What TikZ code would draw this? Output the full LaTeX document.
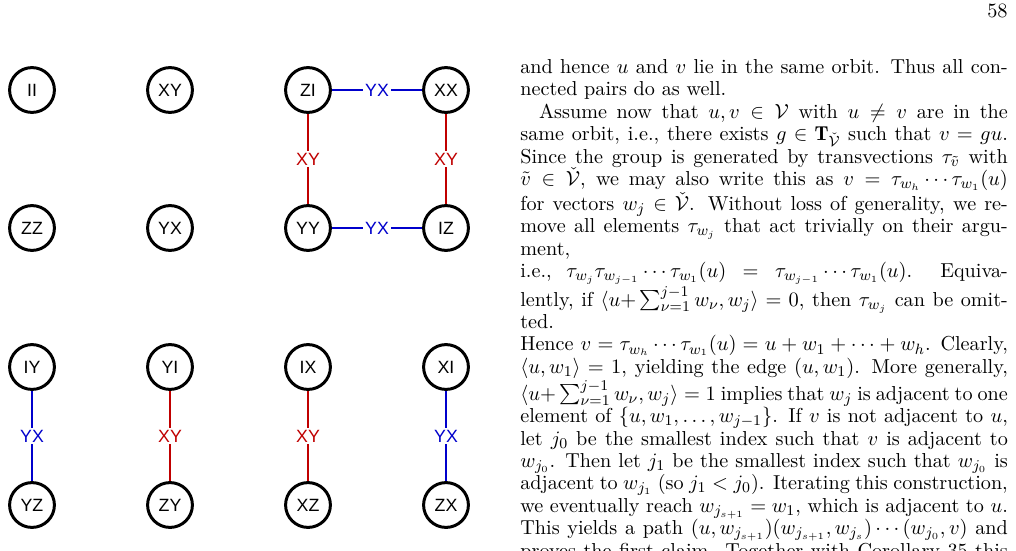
\documentclass[tikz,border=0pt]{standalone}
\usepackage{amsmath,amssymb}
\usepackage{fontspec}
\newfontfamily\lblfont{Liberation Sans}
\definecolor{ered}{HTML}{C00000}
\definecolor{eblue}{HTML}{0000CC}
\tikzset{
  q/.style={circle,draw=black,line width=1.6pt,minimum size=24pt,inner sep=0pt,font=\lblfont\fontsize{9.5}{11}\selectfont},
  rd/.style={draw=ered,line width=0.8pt},
  bl/.style={draw=eblue,line width=0.8pt},
  rl/.style={fill=white,inner sep=1pt,text=ered,font=\lblfont\fontsize{9.5}{11}\selectfont},
  bll/.style={fill=white,inner sep=1pt,text=eblue,font=\lblfont\fontsize{9.5}{11}\selectfont},
}
\begin{document}
\begin{tikzpicture}[x=0.5354pt,y=-0.5354pt]
\useasboundingbox (0,0) rectangle (1016,550);
\node[q] (II) at (32,90) {II};
\node[q] (XY) at (170,90) {XY};
\node[q] (ZI) at (308,90) {ZI};
\node[q] (XX) at (446,90) {XX};
\node[q] (ZZ) at (32,228) {ZZ};
\node[q] (YX) at (170,228) {YX};
\node[q] (YY) at (308,228) {YY};
\node[q] (IZ) at (446,228) {IZ};
\node[q] (IY) at (32,367) {IY};
\node[q] (YI) at (170,367) {YI};
\node[q] (IX) at (308,367) {IX};
\node[q] (XI) at (446,367) {XI};
\node[q] (YZ) at (32,505) {YZ};
\node[q] (ZY) at (170,505) {ZY};
\node[q] (XZ) at (308,505) {XZ};
\node[q] (ZX) at (446,505) {ZX};
\draw[bl] (ZI) -- node[bll]{YX} (XX);
\draw[bl] (YY) -- node[bll]{YX} (IZ);
\draw[rd] (ZI) -- node[rl]{XY} (YY);
\draw[rd] (XX) -- node[rl]{XY} (IZ);
\draw[bl] (IY) -- node[bll]{YX} (YZ);
\draw[rd] (YI) -- node[rl]{XY} (ZY);
\draw[rd] (IX) -- node[rl]{XY} (XZ);
\draw[bl] (XI) -- node[bll]{YX} (ZX);
\node[anchor=north east,inner sep=0pt,font=\fontsize{10.9}{12}\selectfont] (pg) at (1008,4) {58};
\node[anchor=north west,inner sep=0pt,font=\fontsize{10.8}{12}\selectfont] (txt) at (520,59) {\parbox{261pt}{\parindent=10pt\tolerance=10000\hbadness=10000\hfuzz=20pt\noindent
and hence $u$ and $v$ lie in the same orbit. Thus all con-\linebreak nected pairs do as well.\par
Assume now that $u,v\in\mathcal{V}$ with $u\neq v$ are in the\linebreak same orbit, i.e., there exists $g\in\mathbf{T}_{\check{\mathcal{V}}}$ such that $v=gu$.\linebreak Since the group is generated by transvections $\tau_{\tilde v}$ with\linebreak $\tilde v\in\check{\mathcal{V}}$, we may also write this as $v=\tau_{w_h}\cdots\tau_{w_1}(u)$\linebreak for vectors $w_j\in\check{\mathcal{V}}$. Without loss of generality, we re-\linebreak move all elements $\tau_{w_j}$ that act trivially on their argu-\linebreak ment, i.e., $\tau_{w_j}\tau_{w_{j-1}}\cdots\tau_{w_1}(u)=\tau_{w_{j-1}}\cdots\tau_{w_1}(u)$. Equiva-\linebreak lently, if $\langle u{+}\sum_{\nu=1}^{j-1}w_\nu,w_j\rangle=0$, then $\tau_{w_j}$ can be omitted.\linebreak Hence $v=\tau_{w_h}\cdots\tau_{w_1}(u)=u+w_1+\cdots+w_h$. Clearly,\linebreak $\langle u,w_1\rangle=1$, yielding the edge $(u,w_1)$. More generally,\linebreak $\langle u{+}\sum_{\nu=1}^{j-1}w_\nu,w_j\rangle=1$ implies that $w_j$ is adjacent to one\linebreak element of $\{u,w_1,\dots,w_{j-1}\}$. If $v$ is not adjacent to $u$,\linebreak let $j_0$ be the smallest index such that $v$ is adjacent to\linebreak $w_{j_0}$. Then let $j_1$ be the smallest index such that $w_{j_0}$ is\linebreak adjacent to $w_{j_1}$ (so $j_1<j_0$). Iterating this construction,\linebreak we eventually reach $w_{j_{s+1}}=w_1$, which is adjacent to $u$.\linebreak This yields a path $(u,w_{j_{s+1}})(w_{j_{s+1}},w_{j_s})\cdots(w_{j_0},v)$ and\linebreak proves the first claim. Together with Corollary 35 this\linebreak then implies the second statement.\hfill$\square$}};
\end{tikzpicture}
\end{document}
